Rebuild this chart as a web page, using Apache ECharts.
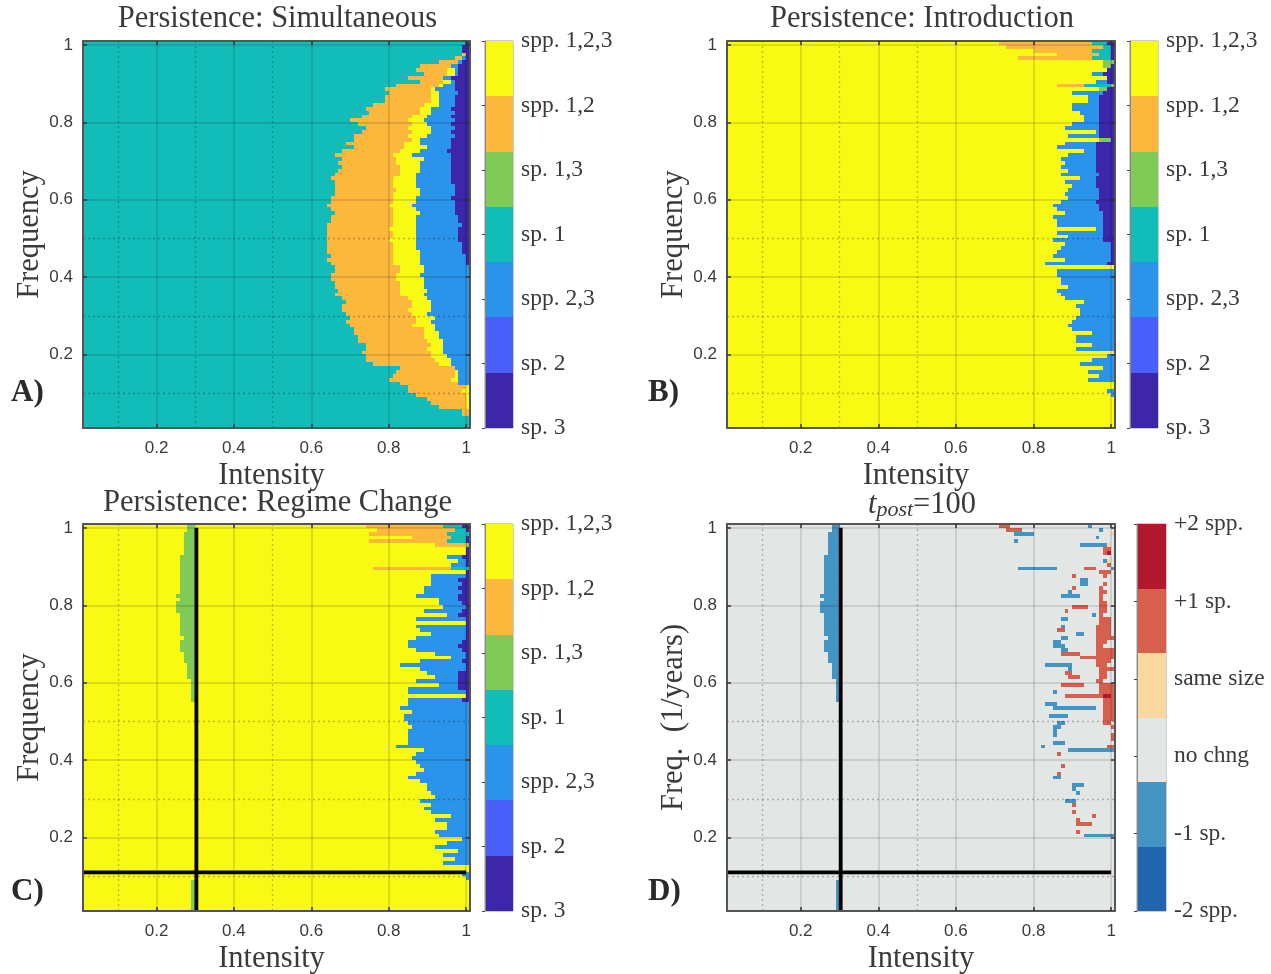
<!DOCTYPE html>
<html><head><meta charset="utf-8">
<script src="https://cdn.jsdelivr.net/npm/echarts@6/dist/echarts.min.js"></script>
<style>html,body{margin:0;background:#fff}#c{width:1271px;height:974px}canvas{filter:blur(.45px)}</style>
</head><body><div id="c"></div>
<script>
// category codes (bottom to top of the colour bar)
const P=0,I=1,B=2,T=3,G=4,O=5,Y=6;
const outcomeLabels=['sp. 3','sp. 2','spp. 2,3','sp. 1','sp. 1,3','spp. 1,2','spp. 1,2,3'];
const outcomeColors=['#3d26a8','#4a5ef9','#2a93ea','#12bdb9','#80ca57','#fcb73d','#f9fa14'];
const changeLabels=['-2 spp.','-1 sp.','no chng','same size','+1 sp.','+2 spp.'];
const changeColors=['#2166ac','#4393c3','#e2e6e4','#f9d8a0','#d6604d','#b2182b'];
const M=1,N=2,L=3,R=4,K=5;
const majorTicks=[0.2,0.4,0.6,0.8,1];
const dottedGrid=[0.1,0.3,0.5];
const regimeX=0.303, regimeY=0.11;
// each row (top = frequency 1.01) : category, end column, category, end column ...
const rowsA=[
[T,99,P,100],[T,98,P,100],[T,98,P,100],[T,98,O,99,P,100],[T,96,O,98,B,99,P,100],[T,92,O,97,B,98,P,100],[T,87,O,95,B,97,P,100],[T,86,O,94,Y,96,B,97,P,100],[T,88,O,94,Y,96,B,97,P,100],[T,84,O,93,B,95,P,100],
[T,87,O,93,Y,95,B,96,P,100],[T,81,O,92,Y,93,B,96,P,100],[T,78,O,90,Y,91,B,96,P,100],[T,79,O,90,Y,92,B,97,P,100],[T,78,O,90,Y,92,B,96,P,100],[T,78,O,90,Y,92,B,96,P,100],[T,75,O,88,Y,92,B,96,P,100],[T,73,O,87,Y,90,B,95,P,100],[T,74,O,87,Y,90,B,96,P,100],[T,72,O,85,Y,89,B,95,P,100],
[T,69,O,84,Y,88,B,96,P,100],[T,71,O,85,Y,89,B,95,P,100],[T,73,O,84,Y,90,B,96,P,100],[T,72,O,85,Y,90,B,95,P,100],[T,70,O,84,Y,89,B,96,P,100],[T,70,O,85,Y,87,B,95,P,100],[T,68,O,83,Y,87,B,95,P,100],[T,70,O,83,Y,89,B,95,P,100],[T,67,O,82,Y,87,B,94,P,100],[T,65,O,80,Y,85,B,95,P,100],
[T,67,O,81,Y,88,B,95,P,100],[T,66,O,81,Y,87,B,95,P,100],[T,67,O,82,Y,87,B,95,P,100],[T,66,O,82,Y,87,B,95,P,100],[T,65,O,82,Y,86,B,95,P,100],[T,64,O,80,Y,86,B,95,P,100],[T,65,O,80,Y,86,B,95,P,100],[T,65,O,80,Y,86,B,96,P,100],[T,65,O,81,Y,87,B,96,P,100],[T,65,O,80,Y,87,B,96,P,100],
[T,64,O,80,Y,86,B,95,P,100],[T,64,O,80,Y,86,B,96,P,100],[T,63,O,79,Y,85,B,96,P,100],[T,64,O,80,Y,86,B,96,P,100],[T,65,O,80,Y,87,B,96,P,100],[T,64,O,80,Y,86,B,97,P,100],[T,64,O,80,Y,86,B,97,P,100],[T,63,O,80,Y,86,B,98,P,100],[T,63,O,79,Y,86,B,97,P,100],[T,63,O,80,Y,86,B,97,P,100],
[T,63,O,80,Y,86,B,97,P,100],[T,63,O,79,Y,86,B,97,P,100],[T,63,O,80,Y,86,B,98,P,100],[T,63,O,80,Y,86,B,98,P,100],[T,63,O,80,Y,87,B,98,P,100],[T,64,O,80,Y,87,B,99,P,100],[T,63,O,80,Y,87,B,99,P,100],[T,64,O,80,Y,87,B,99,P,100],[T,65,O,82,Y,88,B,100],[T,65,O,82,Y,88,B,100],
[T,64,O,81,Y,87,B,100],[T,64,O,81,Y,88,B,100],[T,65,O,82,Y,88,B,100],[T,65,O,82,Y,88,B,100],[T,66,O,82,Y,89,B,100],[T,65,O,82,Y,88,B,100],[T,67,O,84,Y,89,B,100],[T,68,O,85,Y,90,B,100],[T,67,O,85,Y,90,B,100],[T,67,O,84,Y,90,B,100],
[T,68,O,85,Y,89,B,100],[T,69,O,86,Y,91,B,100],[T,68,O,86,Y,90,B,100],[T,69,O,85,Y,91,B,100],[T,70,O,88,Y,91,B,100],[T,70,O,88,Y,92,B,100],[T,71,O,88,Y,92,B,100],[T,71,O,89,Y,93,B,100],[T,73,O,90,Y,93,B,100],[T,73,O,89,Y,93,B,100],
[T,72,O,90,Y,93,B,100],[T,73,O,90,Y,94,B,100],[T,73,O,91,Y,95,B,100],[T,75,O,92,Y,95,B,100],[T,82,O,96,B,100],[T,81,O,96,Y,97,B,100],[T,80,O,96,Y,97,B,100],[T,79,O,95,Y,97,B,100],[T,82,O,97,B,100],[T,84,O,99,Y,100],
[T,84,O,98,Y,100],[T,86,O,99,Y,100],[T,89,O,99,Y,100],[T,90,O,99,Y,100],[T,92,O,99,Y,100],[T,98,O,100],[T,98,O,100],[T,100],[T,100],[T,100]];
const rowsB=[
[Y,70,O,94,T,98,P,100],[Y,72,O,97,T,99,P,100],[Y,79,O,94,T,99,P,100],[Y,85,O,96,T,99,P,100],[Y,75,O,94,T,99,P,100],[Y,97,G,100],[Y,97,G,99,P,100],[Y,98,P,100],[Y,94,B,97,P,100],[Y,98,P,100],
[Y,95,B,98,P,100],[Y,85,O,92,T,99,G,100],[Y,96,G,98,P,100],[Y,89,B,97,P,100],[Y,93,B,96,P,100],[Y,93,B,96,P,100],[Y,89,B,96,P,100],[Y,89,B,96,P,100],[Y,91,B,96,P,100],[Y,92,B,96,P,100],
[Y,92,B,96,P,100],[Y,89,B,96,P,100],[Y,87,B,96,P,100],[Y,95,B,96,P,100],[Y,88,B,96,P,100],[Y,96,G,99,P,100],[Y,87,B,95,P,100],[Y,85,B,95,P,100],[Y,92,B,95,P,100],[Y,88,B,95,P,100],
[Y,86,B,95,P,100],[Y,87,B,95,P,100],[Y,86,B,95,P,100],[Y,88,B,95,P,100],[Y,86,B,96,P,100],[Y,91,B,95,P,100],[Y,87,B,95,P,100],[Y,89,B,95,P,100],[Y,88,B,96,P,100],[Y,87,B,96,P,100],
[Y,88,B,96,P,100],[Y,86,B,95,P,100],[Y,84,B,96,P,100],[Y,85,B,96,P,100],[Y,87,B,97,P,100],[Y,84,B,97,P,100],[Y,85,B,97,P,100],[Y,85,B,97,P,100],[Y,95,B,97,P,100],[Y,85,B,97,P,100],
[Y,88,B,97,P,100],[Y,84,B,97,P,100],[Y,87,B,99,P,100],[Y,86,B,99,P,100],[Y,85,B,99,P,100],[Y,84,B,99,P,100],[Y,87,B,99,P,100],[Y,82,B,98,P,100],[Y,100],[Y,85,B,100],
[Y,85,B,100],[Y,86,B,100],[Y,86,B,100],[Y,88,B,100],[Y,85,B,100],[Y,86,B,100],[Y,87,B,100],[Y,92,B,100],[Y,90,B,100],[Y,91,B,100],
[Y,91,B,100],[Y,90,B,100],[Y,89,B,100],[Y,88,B,100],[Y,89,B,100],[Y,94,B,100],[Y,90,B,100],[Y,90,B,100],[Y,94,B,100],[Y,90,B,100],
[Y,100],[Y,98,B,100],[Y,94,B,100],[Y,91,B,100],[Y,97,B,100],[Y,93,B,100],[Y,96,B,100],[Y,93,B,100],[Y,100],[Y,100],
[Y,98,B,100],[Y,99,B,100],[Y,100],[Y,100],[Y,100],[Y,100],[Y,100],[Y,100],[Y,100],[Y,100]];
const rowsC=[
[Y,73,O,93,T,98,P,100],[Y,76,O,96,T,99,P,100],[Y,74,O,94,T,100],[Y,85,O,95,T,99,P,100],[Y,74,O,94,T,99,P,100],[Y,91,O,99,G,100],[Y,99,P,100],[Y,99,P,100],[Y,94,B,98,P,100],[Y,97,B,99,P,100],
[Y,95,B,99,P,100],[Y,75,O,95,T,100],[Y,99,P,100],[Y,90,B,99,P,100],[Y,90,B,97,P,100],[Y,90,B,98,P,100],[Y,88,B,97,P,100],[Y,88,B,98,P,100],[Y,86,B,97,P,100],[Y,92,B,97,P,100],
[Y,92,B,98,P,100],[Y,93,B,99,P,100],[Y,88,B,98,P,100],[Y,94,B,97,P,100],[Y,86,B,99,P,100],[Y,99,P,100],[Y,86,B,99,P,100],[Y,87,B,99,P,100],[Y,90,B,99,P,100],[Y,86,B,99,P,100],
[Y,84,B,98,P,100],[Y,84,B,97,P,100],[Y,86,B,98,P,100],[Y,91,B,99,P,100],[Y,95,B,99,P,100],[Y,87,B,98,P,100],[Y,82,B,99,P,100],[Y,87,B,99,P,100],[Y,89,B,97,P,100],[Y,91,B,97,P,100],
[Y,86,B,97,P,100],[Y,92,B,97,P,100],[Y,84,B,97,P,100],[Y,84,B,99,P,100],[Y,99,P,100],[Y,84,B,98,P,100],[Y,84,B,100],[Y,82,B,100],[Y,85,B,100],[Y,83,B,100],
[Y,83,B,100],[Y,84,B,100],[Y,85,B,100],[Y,84,B,100],[Y,84,B,100],[Y,84,B,100],[Y,84,B,100],[Y,81,B,100],[Y,88,B,100],[Y,86,B,100],
[Y,85,B,100],[Y,86,B,100],[Y,87,B,100],[Y,88,B,100],[Y,86,B,100],[Y,84,B,100],[Y,87,B,100],[Y,89,B,100],[Y,89,B,100],[Y,90,B,100],
[Y,91,B,100],[Y,87,B,100],[Y,90,B,100],[Y,88,B,100],[Y,90,B,100],[Y,95,B,100],[Y,91,B,100],[Y,94,B,100],[Y,94,B,100],[Y,91,B,100],
[Y,92,B,100],[Y,98,B,100],[Y,94,B,100],[Y,91,B,100],[Y,97,B,100],[Y,93,B,100],[Y,96,B,100],[Y,93,B,100],[Y,100],[Y,100],
[Y,98,B,100],[Y,99,B,100],[Y,100],[Y,100],[Y,100],[Y,100],[Y,100],[Y,100],[Y,100],[Y,100]];
// regime-change strip: first row, last row, first column (runs to column 29, the black line)
const stripRuns=[[0,1,27],[2,7,26],[8,17,25],[18,18,24],[19,19,25],[20,22,24],[23,28,25],[29,29,26],[30,32,25],[33,35,26],[36,39,27],[40,45,28],[92,99,28]];
// panel D cells that differ from "no chng": row, first column, end column, category
const marksD=[
[0,70,73,R],[0,93,94,M],[1,72,76,R],[1,96,97,M],[2,74,79,M],[2,99,100,L],[3,95,96,M],[4,74,75,M],[5,91,98,M],[5,98,99,L],
[6,97,99,R],[7,97,98,R],[7,98,99,K],[9,97,98,M],[9,98,99,L],[10,98,99,R],[11,75,85,M],[11,92,95,R],[11,99,100,M],[12,96,99,R],
[13,89,90,R],[13,97,98,R],[14,91,93,M],[15,91,93,M],[15,97,98,R],[16,89,90,R],[16,96,97,R],[17,88,89,M],[17,96,98,R],[18,86,91,M],[18,96,97,R],
[19,96,97,R],[20,96,98,R],[21,89,93,R],[21,96,98,R],[22,87,88,R],[22,96,98,R],[23,94,95,M],[23,96,97,R],[24,86,88,M],[24,96,99,R],[25,96,99,R],
[26,86,87,M],[26,95,99,R],[27,85,87,R],[27,95,99,R],[28,90,92,M],[28,95,99,R],[29,86,88,M],[29,95,100,R],[30,84,86,M],[30,95,98,R],
[31,84,87,M],[31,95,97,R],[32,86,88,M],[32,95,100,R],[33,86,91,R],[33,95,100,R],[34,91,100,R],[35,95,99,R],[36,82,89,M],[36,95,98,R],
[37,88,89,M],[37,96,100,R],[38,87,89,R],[38,96,98,R],[39,88,91,R],[39,96,98,R],[40,95,97,R],[41,86,92,R],[41,96,100,R],[42,96,100,R],
[43,84,85,M],[43,96,100,R],[44,87,97,R],[44,97,99,K],[44,99,100,R],[45,97,100,R],[46,82,85,M],[46,97,100,R],[47,84,95,M],[47,97,100,R],
[48,97,100,R],[49,83,88,M],[49,97,100,R],[50,97,100,R],[51,85,87,M],[51,97,99,R],[52,84,86,M],[52,99,100,R],[53,84,85,M],[54,84,85,M],[54,99,100,R],
[55,99,100,R],[56,84,87,M],[57,81,82,M],[57,98,100,R],[58,88,100,M],[59,85,86,R],[62,86,87,R],[64,85,86,R],[65,84,86,M],[67,89,92,M],
[68,89,90,M],[69,90,91,M],[71,87,90,M],[72,89,90,R],[74,89,90,R],[75,94,95,R],[76,90,91,R],[77,90,94,R],[79,90,91,R],[80,92,100,M]];

function cellsFromRows(rows){
  const out=[];
  rows.forEach((row,r)=>{let s=0;for(let i=0;i<row.length;i+=2){
    out.push([0.01+s*0.01,0.01+row[i+1]*0.01,1.01-r*0.01,1.01-(r+1)*0.01,row[i]]);s=row[i+1];}});
  return out;
}
function cell(r0,r1,c0,c1,k){return [0.01+c0*0.01,0.01+c1*0.01,1.01-r0*0.01,1.01-(r1+1)*0.01,k];}
const stripCells=k=>stripRuns.map(s=>cell(s[0],s[1],s[2],29,k));
const dataA=cellsFromRows(rowsA), dataB=cellsFromRows(rowsB);
const dataC=cellsFromRows(rowsC).concat(stripCells(G));
const dataD=[cell(0,99,0,100,N)].concat(stripCells(M),marksD.map(m=>cell(m[0],m[0],m[1],m[2],m[3])));

const serif='"Liberation Serif","DejaVu Serif",serif', sans='"Liberation Sans",Arial,sans-serif';
const txt='#3a3a3a', frame='#555';
const painter=colors=>(p,api)=>{
  const a=api.coord([api.value(0),api.value(2)]),b=api.coord([api.value(1),api.value(3)]);
  const x0=Math.round(a[0]),x1=Math.round(b[0]),y0=Math.round(a[1]),y1=Math.round(b[1]);
  return {type:'rect',shape:{x:x0,y:y0,width:x1-x0,height:y1-y0},style:{fill:colors[api.value(4)]}};
};
const panels=[
 {left:83,top:41,w:387,data:dataA,colors:outcomeColors,labels:outcomeLabels,cb:485,cbw:28,title:'Persistence: Simultaneous',yname:'Frequency',letter:'A)',lx:6,xpad:10,ty:3,ly:372},
 {left:727,top:41,w:388,data:dataB,colors:outcomeColors,labels:outcomeLabels,cb:1130,cbw:28,title:'Persistence: Introduction',yname:'Frequency',letter:'B)',lx:643,xpad:10,ty:3,ly:372},
 {left:83,top:524,w:387,data:dataC,colors:outcomeColors,labels:outcomeLabels,cb:485,cbw:28,title:'Persistence: Regime Change',yname:'Frequency',letter:'C)',lx:6,xpad:10,ty:487,ly:871,regime:true},
 {left:727,top:524,w:388,data:dataD,colors:changeColors,labels:changeLabels,cb:1137,cbw:29,title:'{i|t}{s|post}{n|=100}',yname:'Freq.  (1/years)',letter:'D)',lx:643,xpad:0,ty:489,ly:871,regime:true,light:true}
];
const grid=[],xAxis=[],yAxis=[],series=[],title=[];
panels.forEach((p,n)=>{
  const g=grid.length;
  grid.push({left:p.left,top:p.top,width:p.w,height:387,outerBoundsMode:'none'});
  const ln={show:true,onZero:false,lineStyle:{color:frame,width:2}};
  const tick={show:true,inside:true,length:4,customValues:majorTicks,lineStyle:{color:'#333',width:1.5}};
  const lab={show:true,customValues:majorTicks,fontFamily:sans,fontSize:17,color:txt,formatter:v=>String(+(+v).toFixed(1))};
  const mk=(extra)=>Object.assign({type:'value',gridIndex:g,min:0.01,max:1.01,z:10,splitLine:{show:false},axisLine:ln,axisTick:tick},extra);
  const xi=xAxis.length, yi=yAxis.length;
  xAxis.push(mk({position:'bottom',axisLabel:Object.assign({margin:12},lab),name:'Intensity',nameLocation:'middle',nameGap:32,nameTextStyle:{fontFamily:serif,fontSize:30.5,color:txt,padding:[0,p.xpad,0,0]}}));
  xAxis.push(mk({position:'top',axisLabel:{show:false}}));
  yAxis.push(mk({position:'left',axisLabel:Object.assign({margin:10,padding:[6,0,0,0]},lab),name:p.yname,nameLocation:'middle',nameGap:38,nameTextStyle:{fontFamily:serif,fontSize:30.5,color:txt}}));
  yAxis.push(mk({position:'right',axisLabel:{show:false}}));
  series.push({type:'custom',xAxisIndex:xi,yAxisIndex:yi,z:2,silent:true,renderItem:painter(p.colors),encode:{x:[0,1],y:[2,3]},data:p.data,clip:true});
  const gridLn=p.light?0.14:0.16;
  series.push({type:'line',xAxisIndex:xi,yAxisIndex:yi,z:3,silent:true,data:[],markLine:{silent:true,symbol:'none',animation:false,label:{show:false},data:[
    ...majorTicks.map(v=>({xAxis:v,lineStyle:{type:'solid',width:1.5,color:`rgba(0,0,0,${gridLn})`}})),
    ...majorTicks.map(v=>({yAxis:v,lineStyle:{type:'solid',width:1.5,color:`rgba(0,0,0,${gridLn})`}})),
    ...dottedGrid.map(v=>({xAxis:v,lineStyle:{type:[2,3],width:1.3,color:'rgba(0,0,0,.25)'}})),
    ...dottedGrid.map(v=>({yAxis:v,lineStyle:{type:[2,3],width:1.3,color:'rgba(0,0,0,.25)'}}))
  ]}});
  if(p.regime){
    const blk={color:'#000',width:3.8};
    series.push({type:'line',xAxisIndex:xi,yAxisIndex:yi,z:5,silent:true,symbol:'none',lineStyle:blk,data:[[regimeX,1.0],[regimeX,0.01]]});
    series.push({type:'line',xAxisIndex:xi,yAxisIndex:yi,z:5,silent:true,symbol:'none',lineStyle:blk,data:[[0.01,regimeY],[1.0,regimeY]]});
  }
  // colour bar
  const cg=grid.length, k=p.labels.length;
  grid.push({left:p.cb,top:p.top,width:p.cbw,height:387,show:true,borderColor:'#999',borderWidth:1,outerBoundsMode:'none'});
  const cx=xAxis.length, cy=yAxis.length;
  xAxis.push({type:'value',gridIndex:cg,min:0,max:1,show:false});
  yAxis.push({type:'value',gridIndex:cg,position:'right',min:0,max:k-1,interval:1,z:10,splitLine:{show:false},
    axisLine:{show:true,lineStyle:{color:'#888',width:1}},axisTick:{show:true,inside:true,length:3,lineStyle:{color:'#444',width:1}},
    axisLabel:{show:true,margin:8,fontFamily:serif,fontSize:23.5,color:txt,formatter:v=>p.labels[Math.round(v)]}});
  series.push({type:'custom',xAxisIndex:cx,yAxisIndex:cy,z:2,silent:true,renderItem:painter(p.colors),encode:{x:[0,1],y:[2,3]},
    data:p.labels.map((_,i)=>[0,1,(i+1)*(k-1)/k,i*(k-1)/k,i])});
  const cxm=p.left+p.w/2+1;
  title.push({text:p.title,left:cxm,top:p.ty,padding:0,textAlign:'center',textStyle:{fontFamily:serif,fontSize:30.5,fontWeight:'normal',color:txt,
    rich:{i:{fontFamily:serif,fontSize:30.5,fontStyle:'italic',color:txt},s:{fontFamily:serif,fontSize:22,fontStyle:'italic',color:txt,padding:[10,0,0,0]},n:{fontFamily:serif,fontSize:30.5,color:txt}}}});
  title.push({text:p.letter,left:p.lx,top:p.ly,textStyle:{fontFamily:serif,fontSize:31,fontWeight:'bold',color:'#2a2a2a'}});
});
const chart=echarts.init(document.getElementById('c'),null,{renderer:'canvas',width:1271,height:974});
chart.setOption({animation:false,backgroundColor:'#fff',title,grid,xAxis,yAxis,series});
</script></body></html>
